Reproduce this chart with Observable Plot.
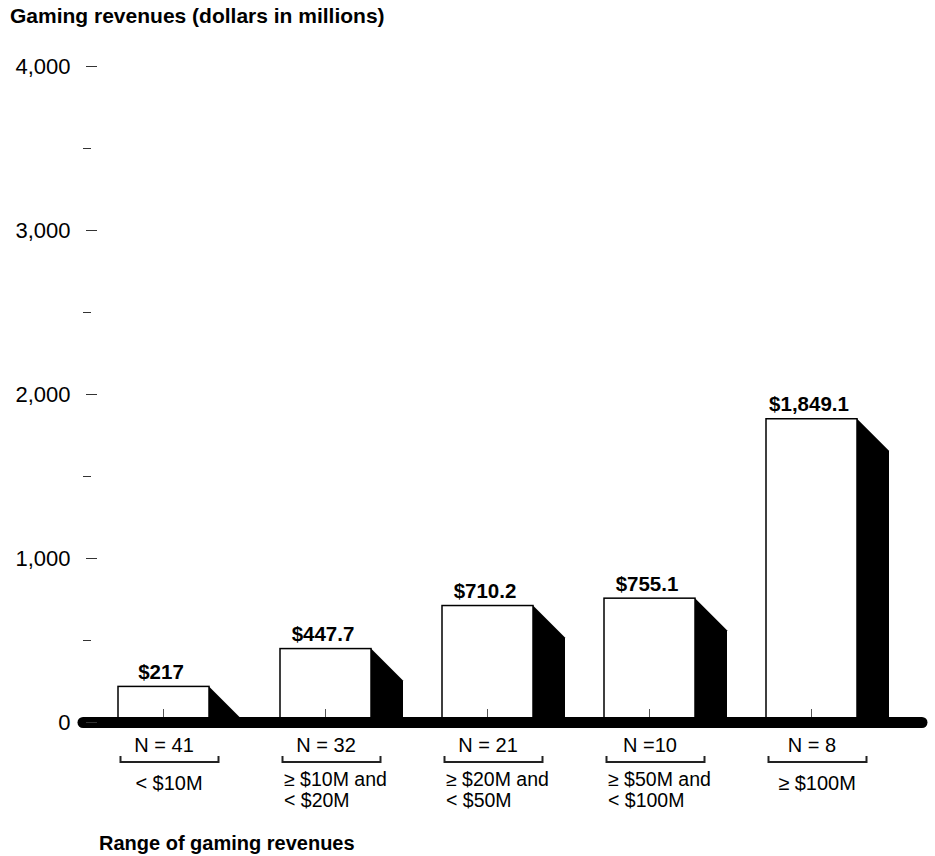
<!DOCTYPE html>
<html>
<head>
<meta charset="utf-8">
<script src="https://cdn.jsdelivr.net/npm/d3@7"></script>
<script src="https://cdn.jsdelivr.net/npm/@observablehq/plot@0.6"></script>
<style>
  body { margin: 0; background: #fff; font-family: "Liberation Sans", Arial, Helvetica, sans-serif; color: #000; }
  #chart { position: relative; width: 935px; height: 856px; }
  #chart svg { display: block; }
  .title { position: absolute; left: 10px; top: 5px; font-size: 21px; line-height: 21px; font-weight: bold; white-space: nowrap; }
  .xtitle { position: absolute; left: 99px; top: 833px; font-size: 20px; line-height: 20px; font-weight: bold; white-space: nowrap; }
</style>
</head>
<body>
<div id="chart">
  <div class="title">Gaming revenues (dollars in millions)</div>
  <div class="xtitle">Range of gaming revenues</div>
</div>
<script>
// Revenue groups, total gaming revenues per group and the number of operations in each
const categories = ["< $10M", "≥ $10M and\n< $20M", "≥ $20M and\n< $50M", "≥ $50M and\n< $100M", "≥ $100M"];
const revenues = [217, 447.7, 710.2, 755.1, 1849.1];
const sampleSizes = ["N = 41", "N = 32", "N = 21", "N =10", "N = 8"];
const majorTicks = [0, 1000, 2000, 3000, 4000];
const minorTicks = [500, 1500, 2500, 3500];

const rows = categories.map((category, i) => ({category, revenue: revenues[i], n: sampleSizes[i]}));
const thousands = d3.format(",");
const money = v => "$" + thousands(v);
const bandwidthOf = x => (typeof x.bandwidth === "function" ? x.bandwidth() : x.bandwidth);

// Solid black "depth" face on the right side of every column
function shadows(index, {x, y}) {
  const w = bandwidthOf(x), depth = 32, y0 = y(0);
  const g = d3.create("svg:g").attr("fill", "black");
  g.selectAll("path").data(rows).join("path")
    .attr("d", d => {
      const r = x(d.category) + w, t = y(d.revenue);
      return `M${r},${t}L${r + depth},${Math.min(t + depth, y0)}L${r + depth},${y0}L${r},${y0}Z`;
    });
  return g.node();
}

// Small tick at the middle of each column, rising from the baseline
function centerTicks(index, {x, y}) {
  const w = bandwidthOf(x), y0 = y(0);
  const g = d3.create("svg:g").attr("stroke", "#555").attr("stroke-width", 1);
  g.selectAll("line").data(rows).join("line")
    .attr("x1", d => x(d.category) + w / 2).attr("x2", d => x(d.category) + w / 2)
    .attr("y1", y0).attr("y2", y0 - 13);
  return g.node();
}

// Bracket under each sample-size label
function brackets(index, {x, y}) {
  const w = bandwidthOf(x), yb = y(0) + 40;
  const g = d3.create("svg:g").attr("fill", "none").attr("stroke", "#222").attr("stroke-width", 2);
  g.selectAll("path").data(rows).join("path")
    .attr("d", d => {
      const l = x(d.category) + w / 2 - 43, r = l + 98;
      return `M${l},${yb - 6}V${yb}H${r}V${yb - 6}`;
    });
  return g.node();
}

const font = "'Liberation Sans', Arial, Helvetica, sans-serif";

const chart = Plot.plot({
  width: 935,
  height: 856,
  marginTop: 66,
  marginBottom: 134,
  marginLeft: 83,
  marginRight: 13,
  style: {fontFamily: font, fontSize: "20px", color: "black", background: "white", overflow: "visible"},
  x: {type: "band", domain: categories, paddingInner: 0.44, paddingOuter: 0.3016, align: 0.347, axis: null},
  y: {domain: [0, 4000], axis: null},
  marks: [
    shadows,
    Plot.barY(rows, {x: "category", y: "revenue", fill: "white", stroke: "black", strokeWidth: 1.5}),
    centerTicks,
    Plot.ruleY([0], {stroke: "black", strokeWidth: 11, strokeLinecap: "round"}),
    Plot.axisY({ticks: majorTicks, tickFormat: thousands, tickSize: 11, tickPadding: 16, dx: 14,
                fontSize: 22, stroke: "#333", fill: "black", label: null}),
    Plot.axisY({ticks: minorTicks, tickFormat: () => "", tickSize: 8, dx: 8, stroke: "#333", label: null}),
    Plot.text(rows, {x: "category", y: "revenue", text: d => money(d.revenue), lineAnchor: "bottom",
                     dy: -8, dx: -3, fontSize: 20.5, fontWeight: "bold"}),
    Plot.text(rows, {x: "category", text: "n", frameAnchor: "bottom", lineAnchor: "middle", dy: 23, fontSize: 20}),
    brackets,
    Plot.text(rows.filter(d => d.category.includes("\n")), {x: "category", text: "category", frameAnchor: "bottom",
              lineAnchor: "top", textAnchor: "start", dx: -42, dy: 48, fontSize: 19.5, lineHeight: 1.1}),
    Plot.text(rows.filter(d => !d.category.includes("\n")), {x: "category", text: "category", frameAnchor: "bottom",
              lineAnchor: "middle", dx: 5, dy: 61, fontSize: 20})
  ]
});

document.getElementById("chart").appendChild(chart);
</script>
</body>
</html>
